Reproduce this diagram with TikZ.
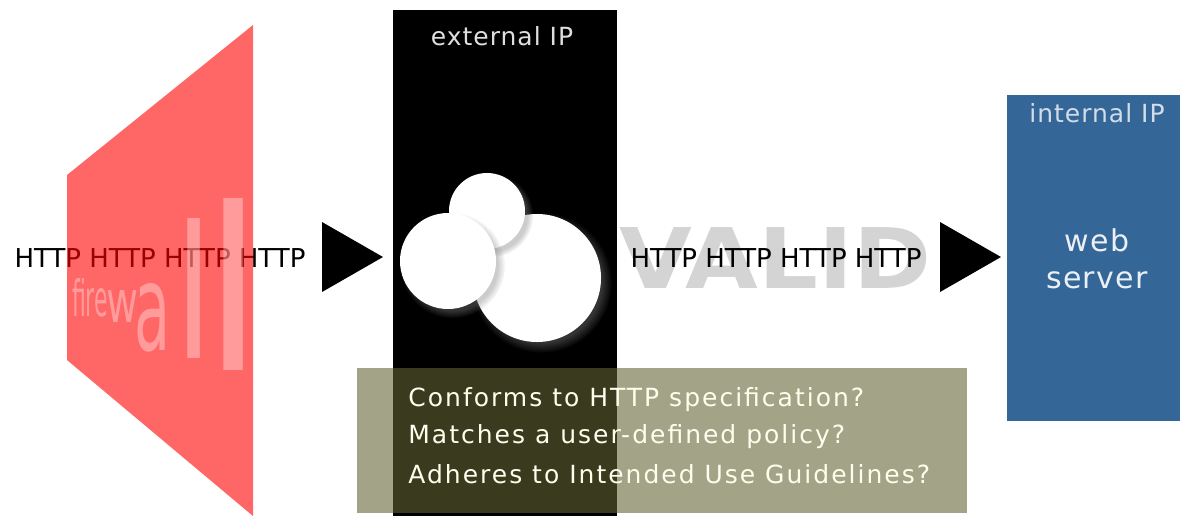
\documentclass[tikz,border=0pt]{standalone}
\usepackage{fontspec}
\setmainfont{DejaVu Sans}
\newfontfamily\labelfont[LetterSpace=4]{DejaVu Sans}
\newfontfamily\boxfont[LetterSpace=8]{DejaVu Sans}
\usetikzlibrary{shadows}
\definecolor{wallred}{RGB}{255,0,0}
\definecolor{serverblue}{RGB}{52,102,152}
\definecolor{boxolive}{RGB}{99,99,53}
\definecolor{validgray}{RGB}{212,212,212}
\begin{document}
\begin{tikzpicture}[x=0.5pt,y=-0.5pt, line join=round,
	http/.style={font=\fontsize{13}{15}\selectfont, inner sep=0},
	iplabel/.style={font=\labelfont\fontsize{12.5}{15}\selectfont, inner sep=0},
	question/.style={font=\boxfont\fontsize{12.5}{15}\selectfont, text=white!93!yellow, inner sep=0, anchor=west},
	wallchar/.style={inner sep=0, outer sep=0, anchor=north west, text=white, text opacity=0.35},
	disc/.style={fill=white, circular drop shadow={shadow xshift=2pt, shadow yshift=-2pt, opacity=0.4}}]
	\def\W{1180} \def\H{516}
	\useasboundingbox[fill=white] (0,0) rectangle (\W,\H);
	% tuong lua
	\node[http] (in) at (160,258) {HTTP HTTP HTTP HTTP};
	\fill[wallred, opacity=0.6] (67,175) -- (253,25) -- (253,\H) -- (67,360) -- cycle;
	\node[wallchar] (f1) at (72,278) {\resizebox{18pt}{19pt}{fire}};
	\node[wallchar] (f2) at (106,290) {\resizebox{16pt}{16pt}{w}};
	\node[wallchar] (f3) at (134,283) {\resizebox{18pt}{33.5pt}{a}};
	\node[wallchar] (f4) at (174,218) {\resizebox{19.5pt}{70pt}{l}};
	\node[wallchar] (f5) at (203,198) {\resizebox{30pt}{86pt}{l}};
	\fill (322,222) -- (322,292) -- (383,257) -- cycle;
	% VALID
	\node[inner sep=0, anchor=north west, text=validgray] (valid) at (619,227) {\resizebox{156pt}{30.5pt}{\bfseries VALID}};
	\node[http] (out) at (776,258) {HTTP HTTP HTTP HTTP};
	\fill (940,222) -- (940,292) -- (1001,257) -- cycle;
	% proxy
	\fill (393,10) rectangle (617,\H);
	\node[iplabel, text=white!87!black] (ext) at (502,36) {external IP};
	\fill[disc] (537,278) circle (64);
	\fill[disc] (487,211) circle (38);
	\fill[disc] (448,261) circle (48);
	\fill[boxolive, opacity=0.59] (357,368) rectangle (967,513);
	\node[question] (q1) at (408,400) {Conforms to HTTP specification?};
	\node[question] (q2) at (408,437) {Matches a user-defined policy?};
	\node[question] (q3) at (408,474) {Adheres to Intended Use Guidelines?};
	% may chu
	\fill[serverblue] (1007,95) rectangle (\W,421);
	\node[iplabel, text=white!78!serverblue] (int) at (1097,113) {internal IP};
	\node[iplabel, font=\labelfont\fontsize{15}{18.5}\selectfont, text=white!90!serverblue, align=center] (web) at (1097,259) {web\\server};
\end{tikzpicture}
\end{document}
